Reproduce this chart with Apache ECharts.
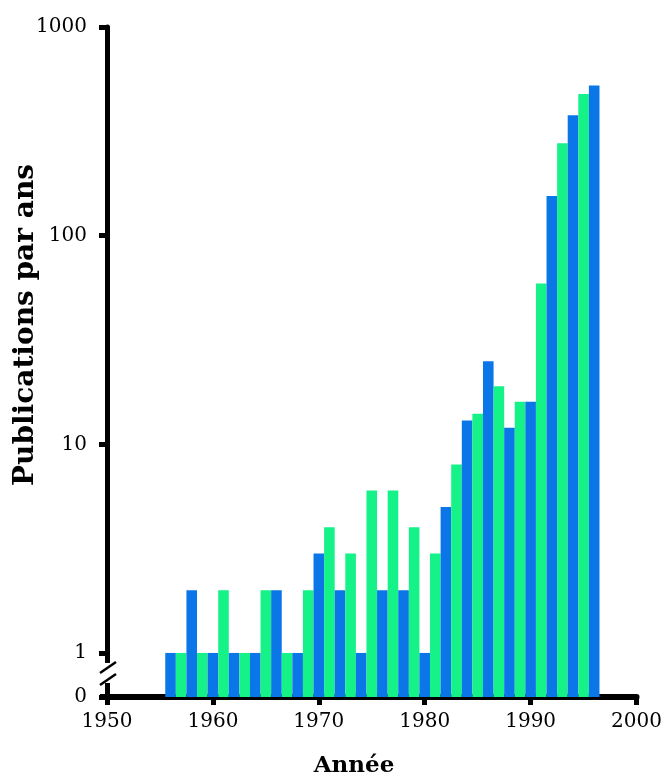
<!DOCTYPE html>
<html><head><meta charset="utf-8">
<script src="https://cdn.jsdelivr.net/npm/echarts@6/dist/echarts.min.js"></script>
<style>html,body{margin:0;padding:0;background:#fff}#c{width:665px;height:782px}</style>
</head><body><div id="c"></div>
<script>
const years = [1956,1957,1958,1959,1960,1961,1962,1963,1964,1965,1966,1967,1968,1969,1970,1971,1972,1973,1974,1975,1976,1977,1978,1979,1980,1981,1982,1983,1984,1985,1986,1987,1988,1989,1990,1991,1992,1993,1994,1995,1996];
const publications = [1,1,2,1,1,2,1,1,1,2,2,1,1,2,3,4,2,3,1,6,2,6,2,4,1,3,5,8,13,14,25,19,12,16,16,59,155,277,378,477,525];
const xTicks = [1950,1960,1970,1980,1990,2000];
const yTickLabels = ['0','1','10','100','1000'];
const xTitle = 'Année';
const yTitle = 'Publications par ans';

const BLUE = '#0b76e8', GREEN = '#14f288';
const FONT = '"DejaVu Serif", "Liberation Serif", serif';
const yMin = 0.615;

const chart = echarts.init(document.getElementById('c'), null, {renderer:'canvas'});
const data = years.map((y,i)=>({value:[y, publications[i]], itemStyle:{color: (y%2===0)?BLUE:GREEN}}));

chart.setOption({
  animation:false,
  backgroundColor:'#fff',
  grid:{left:107, right:27, top:27, bottom:85, containLabel:false},
  xAxis:{
    type:'value', min:xTicks[0], max:xTicks[xTicks.length-1], interval:10,
    axisLine:{show:true, lineStyle:{color:'#000', width:6}},
    axisTick:{show:true, length:8, lineStyle:{color:'#000', width:5}},
    axisLabel:{color:'#000', fontFamily:FONT, fontSize:20, margin:15, formatter:v=>String(v)},
    splitLine:{show:false}
  },
  yAxis:{
    type:'log', logBase:10, min:yMin, max:1000, startValue:yMin,
    axisLine:{show:true, lineStyle:{color:'#000', width:5}},
    axisTick:{show:true, length:8, lineStyle:{color:'#000', width:5}},
    axisLabel:{color:'#000', fontFamily:FONT, fontSize:20, margin:20,
      formatter:v=>{ if(v<0.9) return yTickLabels[0]; const k=Math.round(Math.log10(v)); return yTickLabels[k+1]||String(v);} },
    splitLine:{show:false}, minorTick:{show:false}
  },
  series:[{
    type:'bar', data:data, barWidth:'100%', barGap:'0%', barCategoryGap:'0%'
  }]
});

const pTop = chart.convertToPixel({gridIndex:0}, [xTicks[0], 1]);
const pBot = chart.convertToPixel({gridIndex:0}, [xTicks[0], yMin]);
const ax = pTop[0], y1 = pTop[1], y0 = pBot[1];
const gTop = y1 + 10, gBot = y0 - 14;
chart.setOption({
  graphic:[
    {type:'rect', shape:{x:ax-4, y:gTop, width:8, height:gBot-gTop}, style:{fill:'#fff'}, z:100},
    {type:'line', shape:{x1:ax-7, y1:gTop+10, x2:ax+9, y2:gTop-1}, style:{stroke:'#000', lineWidth:2.5}, z:101},
    {type:'line', shape:{x1:ax-7, y1:gBot+2, x2:ax+9, y2:gBot-9}, style:{stroke:'#000', lineWidth:2.5}, z:101},
    {type:'rect', shape:{x:ax-7, y:y0-3, width:8, height:6}, style:{fill:'#000'}, z:100},
    {type:'text', x:26, y:325, rotation:Math.PI/2, style:{text:yTitle, fontFamily:FONT, fontWeight:'bold', fontSize:28, fill:'#000', align:'center', verticalAlign:'middle'}, z:100},
    {type:'text', x:354, y:766, style:{text:xTitle, fontFamily:FONT, fontWeight:'bold', fontSize:23, fill:'#000', align:'center', verticalAlign:'middle'}, z:100}
  ]
});
</script>
</body></html>
